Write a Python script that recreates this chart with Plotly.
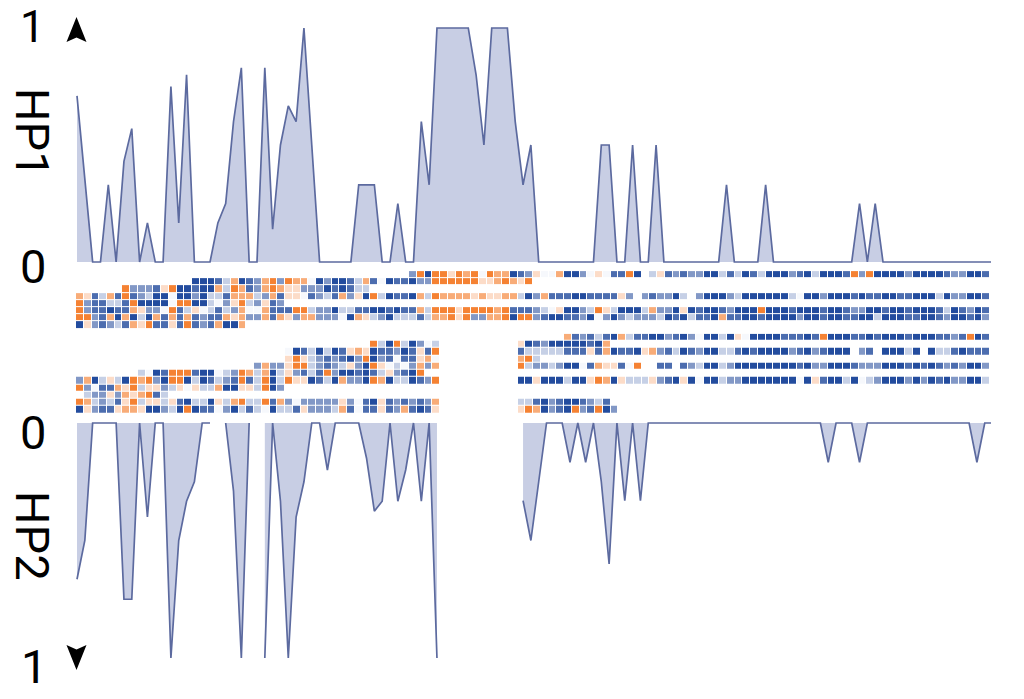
import plotly.graph_objects as go

W, H = 1024, 699
N_COLS = 118

# Coverage fractions per position
hp1 = [
    .71, .36, 0, 0, .33, 0, .43, .57, 0, .167,
    0, 0, .75, .167, .8, 0, 0, 0, .167, .25,
    .6, .83, 0, 0, .83, .14, .5, .667, .6, 1,
    .5, 0, 0, 0, 0, 0, .33, .33, .33, 0,
    0, .25, 0, 0, .6, .33, 1, 1, 1, 1,
    1, .8, .5, 1, 1, 1, .6, .33, .5, 0,
    0, 0, 0, 0, 0, 0, 0, .5, .5, 0,
    0, .5, 0, 0, .5, 0, 0, 0, 0, 0,
    0, 0, 0, .33, 0, 0, 0, 0, .33, 0,
    0, 0, 0, 0, 0, 0, 0, 0, 0, 0,
    .25, 0, .25, 0, 0, 0, 0, 0, 0, 0,
    0, 0, 0, 0, 0, 0, 0, 0,
]
hp2 = [
    .665, .5, 0, 0, 0, 0, .75, .75, 0, .4,
    0, 0, 1, .5, .333, .25, 0, 0, None, 0,
    .29, 1, 0, None, 1, 0, .333, 1, .4, .25,
    0, 0, .2, 0, 0, 0, 0, .15, .375, .333,
    0, .333, .2, 0, .333, 0, 1, None, None, None,
    None, None, None, None, None, None, None, .33, .5, .25,
    0, 0, 0, .167, 0, .167, 0, .25, .6, 0,
    .33, 0, .33, 0, 0, 0, 0, 0, 0, 0,
    0, 0, 0, 0, 0, 0, 0, 0, 0, 0,
    0, 0, 0, 0, 0, 0, .167, 0, 0, 0,
    .167, 0, 0, 0, 0, 0, 0, 0, 0, 0,
    0, 0, 0, 0, 0, .167, 0, 0,
]

# Methylation level per read (1 = orange ... 4 = white ... 8 = blue), '.' = no call.
# Each read is a list of (first column, levels).
read_a0 = [(43, "6181131214" "1228763442" "8864347718" ".537676688" "5758758886"
                "7858887161" "8888688887" "66887")]
read_a1 = [(15, "8887528762" "1612248688" "7527487786" "6111111332" "1231")]
read_a2 = [(6, "1666731887" "8825127621" "233666878755")]
read_a3 = [(0, "2375271765" "8848868557" "2225627334" "7657263815" "8778251222"
               "2323322586" "2777887777" "36.676685." "6888658888" "8854886888"
               "7877887788" "85866887")]
read_a4 = [(0, "1677557188" "8841188546" "3156376")]
read_a5 = [(0, "1677877236" "6417534575" "6244277711" "5668557788" "7877251113"
               "1111217776" "5438865135" "8885266838" "7887688818" "8878887887"
               "6688788788" "87587687")]
read_a6 = [(0, "1167282858" "2727276772" "3266272362" "2666482356" "8555752213"
               "1662218116" "7887768468" "6566658785" "7782778878" "8886887887"
               "7885888778" "87688786")]
read_a7 = [(0, "8367657231" "7737176728" "82")]

read_b0 = [(63, "2767578257" "7886786488" "58348" "8887778718" "8877878887" "8887767187")]
read_b1 = [(38, "158158645"), (57, "387688888782")]
read_b2 = [(27, "4875858732" "3877687371"),
           (57, "7555557773" "7287783267" "5876885578" "7888867867" "888.67.888" "58.85578777")]
read_b3 = [(27, "3135676786" "1867477324"), (57, "215")]
read_b4 = [(23, "6266311567" "6536813454" "6262"),
           (57, "1566568847" "233741..77" ".765885688" "88888878668" "8876668887" "8787676886")]
read_b5 = [(8, "5487111788" "4561252853" "6757168878" "7536781")]
read_b6 = [(0, "6285358121" "6811858756" "7175185133" "8758266812" "8558761"),
           (57, "8838885883" "1283555367" "8384885668" "8888884837" "8858456888" "68687866885")]
read_b7 = [(0, "1647723153" "3653435528" "8335186")]
read_b8 = [(1, "56636232175")]
read_b9 = [(0, "1256573153" "3537855835" "2155172646" "6666364783" "7676762"),
           (57, "557867887657")]
read_b10 = [(0, "8367732238" "8658187746" "8575485573" "6665274773" "7627873"),
            (57, "3128678167186")]

group_a = [read_a0, read_a1, read_a2, read_a3, read_a4, read_a5, read_a6, read_a7]
group_b = [read_b0, read_b1, read_b2, read_b3, read_b4, read_b5, read_b6, read_b7,
           read_b8, read_b9, read_b10]

level_colors = ["#F58233", "#F8AC78", "#FCDCC8", "#F6F8FC",
                "#C6D0E6", "#8298C6", "#4C6DAF", "#234C9E"]


def decode(read):
    row = [None] * N_COLS
    for start, levels in read:
        for k, ch in enumerate(levels):
            if ch != "." and start + k < N_COLS:
                row[start + k] = int(ch)
    return row


def segments(vals):
    seg = []
    for i, v in enumerate(vals):
        if v is None:
            if seg:
                yield seg
            seg = []
        else:
            seg.append((i, v))
    if seg:
        yield seg


def xdom(a, b):
    return [a / W, b / W]


def ydom(top, bottom):
    return [1 - bottom / H, 1 - top / H]


colorscale = [[i / 7, c] for i, c in enumerate(level_colors)]
fig = go.Figure()
LINE = "#5C6A9F"
FILL = "#C8CEE4"
for vals, ax in ((hp1, ("x", "y")), (hp2, ("x2", "y2"))):
    for seg in segments(vals):
        fig.add_trace(go.Scatter(x=[p[0] for p in seg], y=[p[1] for p in seg], mode="lines",
                                 xaxis=ax[0], yaxis=ax[1],
                                 line=dict(color=LINE, width=1.7), fill="tozeroy",
                                 fillcolor=FILL, showlegend=False, hoverinfo="skip"))
for group, ax in ((group_a, ("x3", "y3")), (group_b, ("x4", "y4"))):
    z = [decode(r) for r in group]
    fig.add_trace(go.Heatmap(z=z, xaxis=ax[0], yaxis=ax[1], zmin=1, zmax=8,
                             colorscale=colorscale, showscale=False, xgap=1, ygap=1,
                             hoverinfo="skip"))

hidden = dict(visible=False, showgrid=False, zeroline=False, fixedrange=True)
X0, X1 = 76, 991
line_range = [-0.128, 116.8]
heat_range = [-0.5, 117.6]
fig.update_layout(
    width=W, height=H, margin=dict(l=0, r=0, t=0, b=0),
    plot_bgcolor="white", paper_bgcolor="white", showlegend=False,
    xaxis=dict(domain=xdom(X0, X1), range=line_range, anchor="y", **hidden),
    yaxis=dict(domain=ydom(24, 264), range=[-0.0085, 1.017], anchor="x", **hidden),
    xaxis2=dict(domain=xdom(X0, X1), range=line_range, anchor="y2", **hidden),
    yaxis2=dict(domain=ydom(421, 662), range=[1.017, -0.0085], anchor="x2", **hidden),
    xaxis3=dict(domain=xdom(X0, X1), range=heat_range, anchor="y3", **hidden),
    yaxis3=dict(domain=ydom(271.1, 328.7), range=[7.5, -0.5], anchor="x3", **hidden),
    xaxis4=dict(domain=xdom(X0, X1), range=heat_range, anchor="y4", **hidden),
    yaxis4=dict(domain=ydom(333.7, 413.3), range=[10.5, -0.5], anchor="x4", **hidden),
)


def label(text, x, y, angle=0, size=47):
    fig.add_annotation(text=text, xref="paper", yref="paper", x=x / W, y=1 - y / H,
                       xanchor="center", yanchor="middle", showarrow=False, textangle=angle,
                       font=dict(family="Roboto", size=size, color="#000000"))


label("1", 32, 26.5, size=44)
label("0", 33, 267)
label("HP1", 33, 133, 90)
label("0", 33, 432)
label("HP2", 33, 536, 90)
label("1", 34, 666)


def arrow(path):
    pts = " ".join(f"{c} {x / W:.5f},{1 - y / H:.5f}" for c, x, y in path)
    fig.add_shape(type="path", xref="paper", yref="paper", path=pts + " Z",
                  fillcolor="#000000", line=dict(width=0), layer="above")


arrow([("M", 76.5, 17), ("L", 86.5, 42), ("L", 76.5, 37.5), ("L", 66.5, 42)])
arrow([("M", 76.5, 670), ("L", 86.5, 645), ("L", 76.5, 649.5), ("L", 66.5, 645)])

fig.write_html("out.html", config=dict(displayModeBar=False),
               post_script="document.body.style.margin='0';")
